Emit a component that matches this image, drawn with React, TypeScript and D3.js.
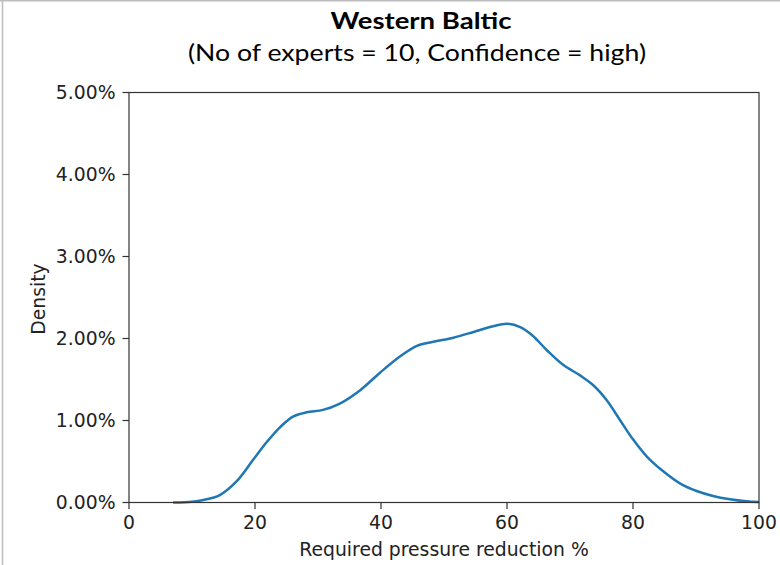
import React from "react";
import * as d3 from "d3";

// Kernel density estimate of the experts' required pressure reduction (x in %, density in %)
const reductionPct = [
  7.0, 10, 11.8, 14.4, 17.1, 19.7, 21.9, 24.0, 26.1, 28.2, 30.8, 33.3, 36.7, 39.8,
  43.0, 45.7, 48.3, 51.5, 54.7, 57.8, 60.0, 62.1, 64.0, 66.3, 68.9, 71.6, 73.7,
  75.8, 77.9, 80.0, 82.2, 84.8, 87.5, 90.1, 92.7, 95.4, 98, 100,
];
const densityPct = [
  0.0, 0.01, 0.03, 0.09, 0.26, 0.52, 0.74, 0.92, 1.05, 1.1, 1.13, 1.2, 1.37, 1.58,
  1.78, 1.91, 1.96, 2.01, 2.08, 2.15, 2.18, 2.14, 2.04, 1.86, 1.68, 1.55, 1.43,
  1.25, 1.01, 0.77, 0.56, 0.38, 0.23, 0.14, 0.08, 0.04, 0.015, 0.005,
];

const xTicks = [0, 20, 40, 60, 80, 100];
const yTicks = [0, 0.01, 0.02, 0.03, 0.04, 0.05];

const titleText = "Western Baltic";
const subtitleText = "(No of experts = 10, Confidence = high)";
const xLabel = "Required pressure reduction %";
const yLabel = "Density";

const W = 780;
const H = 565;
const plot = { left: 129, right: 759, top: 92.5, bottom: 502.5 };

export default function App() {
  const x = d3.scaleLinear().domain([0, 100]).range([plot.left, plot.right]);
  const y = d3.scaleLinear().domain([0, 0.05]).range([plot.bottom, plot.top]);
  const fmt = d3.format(".2%");

  const points: [number, number][] = reductionPct.map((v, i) => [v, densityPct[i] / 100]);
  const line = d3
    .line<[number, number]>()
    .x((d) => x(d[0]))
    .y((d) => y(d[1]))
    .curve(d3.curveCatmullRom.alpha(0.5));

  const tickFont = "'DejaVu Sans', sans-serif";
  const titleFont = "Lato, 'Open Sans', sans-serif";
  const fontSize = 18.8;

  return (
    <div style={{ position: "fixed", left: 0, top: 0 }}>
      <svg width={W} height={H} style={{ display: "block", background: "#fff" }}>
        {/* outer border */}
        <line x1={2.5} y1={0} x2={2.5} y2={H} stroke="#bdbdbd" strokeWidth={1.5} />
        <line x1={0} y1={0.75} x2={W} y2={0.75} stroke="#bdbdbd" strokeWidth={1.5} />

        {/* titles */}
        <text
          x={421}
          y={28.5}
          textAnchor="middle"
          fontFamily={titleFont}
          fontWeight="bold"
          fontSize={23}
          textLength={181}
          lengthAdjust="spacingAndGlyphs"
          fill="#000"
        >
          {titleText}
        </text>
        <text
          x={417}
          y={60.5}
          textAnchor="middle"
          fontFamily={titleFont}
          fontSize={23}
          textLength={458}
          lengthAdjust="spacingAndGlyphs"
          fill="#000"
        >
          {subtitleText}
        </text>

        {/* density curve */}
        <path d={line(points) ?? ""} fill="none" stroke="#1f77b4" strokeWidth={2.5} />

        {/* axes frame */}
        <rect
          x={plot.left}
          y={plot.top}
          width={plot.right - plot.left}
          height={plot.bottom - plot.top}
          fill="none"
          stroke="#333"
          strokeWidth={1.2}
        />

        {/* y ticks */}
        {yTicks.map((t) => (
          <g key={`y${t}`}>
            <line x1={plot.left - 6.5} x2={plot.left} y1={y(t)} y2={y(t)} stroke="#333" strokeWidth={1.2} />
            <text
              x={plot.left - 13.5}
              y={y(t)}
              dy="0.36em"
              textAnchor="end"
              fontFamily={tickFont}
              fontSize={fontSize}
              fill="#222"
            >
              {fmt(t)}
            </text>
          </g>
        ))}

        {/* x ticks */}
        {xTicks.map((t) => (
          <g key={`x${t}`}>
            <line x1={x(t)} x2={x(t)} y1={plot.bottom} y2={plot.bottom + 6.5} stroke="#333" strokeWidth={1.2} />
            <text
              x={x(t)}
              y={528.5}
              textAnchor="middle"
              fontFamily={tickFont}
              fontSize={fontSize}
              fill="#222"
            >
              {t}
            </text>
          </g>
        ))}

        {/* axis labels */}
        <text x={444} y={556} textAnchor="middle" fontFamily={tickFont} fontSize={fontSize} fill="#222">
          {xLabel}
        </text>
        <text
          transform={`translate(45, 299) rotate(-90)`}
          textAnchor="middle"
          fontFamily={tickFont}
          fontSize={fontSize}
          fill="#222"
        >
          {yLabel}
        </text>
      </svg>
    </div>
  );
}
